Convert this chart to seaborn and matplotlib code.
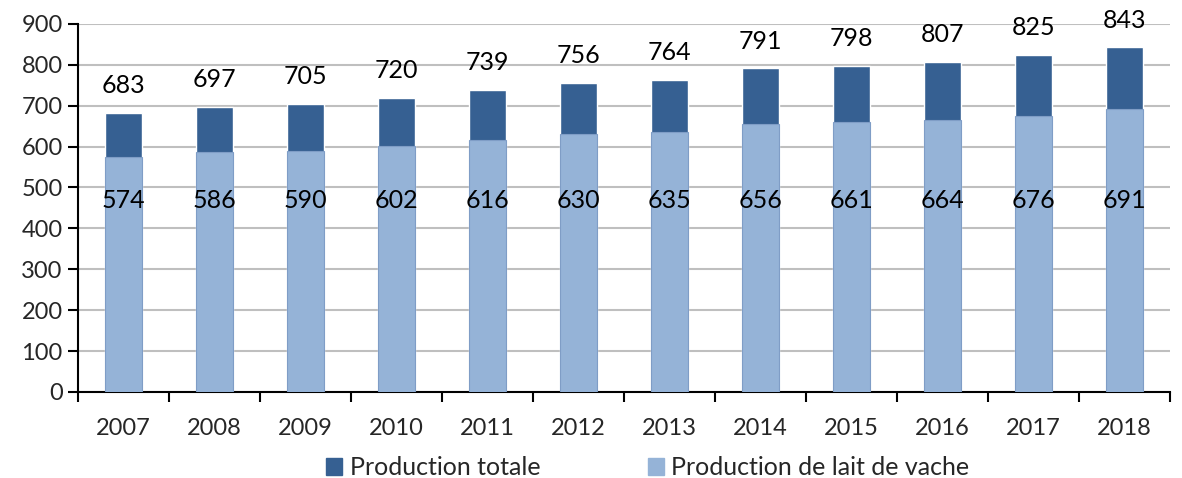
import matplotlib
matplotlib.use("Agg")
import matplotlib.pyplot as plt
import seaborn as sns
import pandas as pd
import numpy as np
from matplotlib.patches import Patch

years = ["2007", "2008", "2009", "2010", "2011", "2012",
         "2013", "2014", "2015", "2016", "2017", "2018"]
total = [683, 697, 705, 720, 739, 756, 764, 791, 798, 807, 825, 843]
cow_milk = [574, 586, 590, 602, 616, 630, 635, 656, 661, 664, 676, 691]

dark = "#366092"
light = "#95B3D7"

sns.set_theme(style="white")
plt.rcParams["font.family"] = ["Lato", "DejaVu Sans"]

df = pd.DataFrame({"year": years, "total": total, "cow": cow_milk})

fig = plt.figure(figsize=(11.82, 4.78), dpi=100)
ax = fig.add_axes([0.066, 0.18, 0.924, 0.77])

ax.yaxis.grid(True, color="#BFBFBF", linewidth=1.5)
ax.set_axisbelow(True)

sns.barplot(data=df, x="year", y="total", color=dark, width=0.41,
            saturation=1, ax=ax, zorder=2)
sns.barplot(data=df, x="year", y="cow", color=light, width=0.41,
            saturation=1, ax=ax, edgecolor="#7F9DC6", linewidth=0.8, zorder=3)

for i, (t, c) in enumerate(zip(total, cow_milk)):
    ax.annotate(str(t), (i, t), xytext=(0, 19.5), textcoords="offset points",
                ha="center", va="center", fontsize=18, color="black")
    ax.text(i, 468, str(c), ha="center", va="center", fontsize=18,
            color="black", zorder=4)

ax.set_ylim(0, 900)
ax.set_yticks(np.arange(0, 901, 100))
ax.set_xlim(-0.5, len(years) - 0.5)
ax.set_xlabel("")
ax.set_ylabel("")

ax.tick_params(axis="x", which="major", length=0, labelsize=17, pad=19)
ax.set_xticks(np.arange(-0.5, len(years)), minor=True)
ax.tick_params(axis="x", which="minor", length=7, width=1.5, color="black",
               direction="out", bottom=True)
ax.tick_params(axis="y", length=7, width=1.5, color="black", direction="out",
               left=True, labelsize=17, pad=4)

for s in ["top", "right"]:
    ax.spines[s].set_visible(False)
for s in ["left", "bottom"]:
    ax.spines[s].set_color("black")
    ax.spines[s].set_linewidth(1.5)

handles = [Patch(color=dark, label="Production totale"),
           Patch(color=light, label="Production de lait de vache")]
fig.legend(handles=handles, loc="center", bbox_to_anchor=(0.548, 0.022),
           ncol=2, frameon=False, fontsize=18, handlelength=0.65,
           handleheight=0.65, handletextpad=0.3, columnspacing=4.3)

fig.savefig("out.png", dpi=100)
